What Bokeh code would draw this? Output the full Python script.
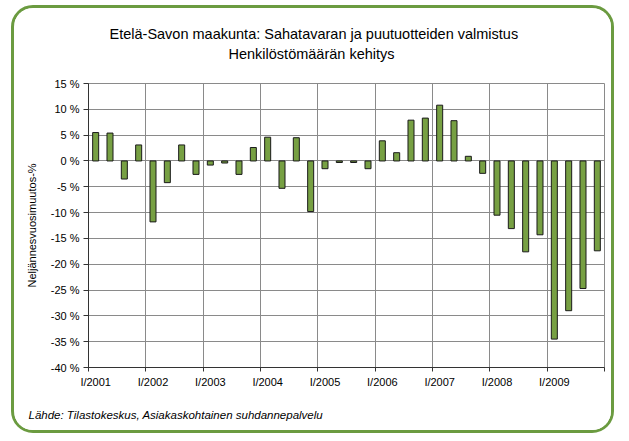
from bokeh.plotting import figure
from bokeh.models import Range1d, FixedTicker, PrintfTickFormatter, Title
from bokeh.embed import file_html
from bokeh.resources import INLINE

years = ["2001", "2002", "2003", "2004", "2005", "2006", "2007", "2008", "2009"]
quarter_labels = [f"I/{y}" for y in years]
values = [5.5, 5.4, -3.5, 3.1,
          -11.8, -4.2, 3.1, -2.6,
          -0.8, -0.4, -2.6, 2.6,
          4.6, -5.3, 4.5, -9.8,
          -1.5, -0.3, -0.3, -1.5,
          3.9, 1.6, 7.9, 8.3,
          10.8, 7.8, 0.9, -2.4,
          -10.5, -13.1, -17.6, -14.3,
          -34.5, -29.0, -24.7, -17.4]
y_ticks = [15, 10, 5, 0, -5, -10, -15, -20, -25, -30, -35, -40]

title1 = "Etelä-Savon maakunta: Sahatavaran ja puutuotteiden valmistus"
title2 = "Henkilöstömäärän kehitys"
ylabel = "Neljännesvuosimuutos-%"
source_text = "Lähde: Tilastokeskus, Asiakaskohtainen suhdannepalvelu"

FONT = "Liberation Sans"
n = len(values)
x = list(range(n))

p = figure(width=603, height=428, output_backend="svg", toolbar_location=None,
           x_range=Range1d(-0.5, n - 0.5), y_range=Range1d(min(y_ticks), max(y_ticks)),
           min_border_left=74, min_border_right=13, min_border_top=75, min_border_bottom=68)
p.title = None
p.styles = {"border": "3px solid #6b9b40", "border-radius": "22px",
            "margin-left": "11px", "margin-top": "5px",
            "overflow": "hidden", "background": "white"}

p.vbar(x=x, top=values, bottom=0, width=0.42, fill_color="#77a043",
       line_color="#1a1a1a", line_width=1)

# axes
p.yaxis.ticker = FixedTicker(ticks=y_ticks)
p.yaxis.formatter = PrintfTickFormatter(format="%d %%")
p.yaxis.major_tick_out = 5
p.yaxis.major_tick_in = 0
p.yaxis.minor_tick_out = 0
p.yaxis.minor_tick_in = 0
p.yaxis.major_label_standoff = 4
p.yaxis.major_label_text_font = FONT
p.yaxis.major_label_text_font_size = "11px"
p.yaxis.major_label_text_color = "#000000"
p.yaxis.axis_label = ylabel
p.yaxis.axis_label_text_font = FONT
p.yaxis.axis_label_text_font_size = "11px"
p.yaxis.axis_label_text_font_style = "normal"
p.yaxis.axis_label_text_color = "#000000"
p.yaxis.axis_label_standoff = 10
p.yaxis.axis_line_color = "#333333"
p.yaxis.major_tick_line_color = "#333333"

label_pos = [4 * i for i in range(len(years))]
boundaries = [4 * i - 0.5 for i in range(len(years) + 1)]
p.xaxis.ticker = FixedTicker(ticks=label_pos, minor_ticks=boundaries)
p.xaxis.major_label_overrides = {pos: lab for pos, lab in zip(label_pos, quarter_labels)}
p.xaxis.major_tick_out = 0
p.xaxis.major_tick_in = 0
p.xaxis.minor_tick_out = 4
p.xaxis.minor_tick_in = 0
p.xaxis.major_label_standoff = 4
p.xaxis.major_label_text_font = FONT
p.xaxis.major_label_text_font_size = "11px"
p.xaxis.major_label_text_color = "#000000"
p.xaxis.axis_line_color = "#333333"
p.xaxis.minor_tick_line_color = "#333333"

# grids
p.ygrid.ticker = FixedTicker(ticks=y_ticks)
p.xgrid.ticker = FixedTicker(ticks=boundaries)
for g in (p.xgrid, p.ygrid):
    g.grid_line_color = "#8a8a8a"
    g.grid_line_width = 1
p.outline_line_color = "#8a8a8a"

# titles: a blank spacer panel next to the frame, then line 2, then line 1
spacer = Title(text=" ", align="left", text_font=FONT, text_font_size="14.5px", standoff=4)
t2 = Title(text=title2, align="left", text_font=FONT, text_font_size="14.5px",
           text_font_style="normal", text_color="#000000", offset=140, standoff=0)
t1 = Title(text=title1, align="left", text_font=FONT, text_font_size="14.5px",
           text_font_style="normal", text_color="#000000", offset=21, standoff=4)
p.add_layout(spacer, "above")
p.add_layout(t2, "above")
p.add_layout(t1, "above")

foot = Title(text=source_text, align="left", text_font=FONT, text_font_size="11.5px",
             text_font_style="italic", text_color="#000000", offset=-60, standoff=32)
p.add_layout(foot, "below")

open("out.html", "w").write(file_html(p, INLINE))
